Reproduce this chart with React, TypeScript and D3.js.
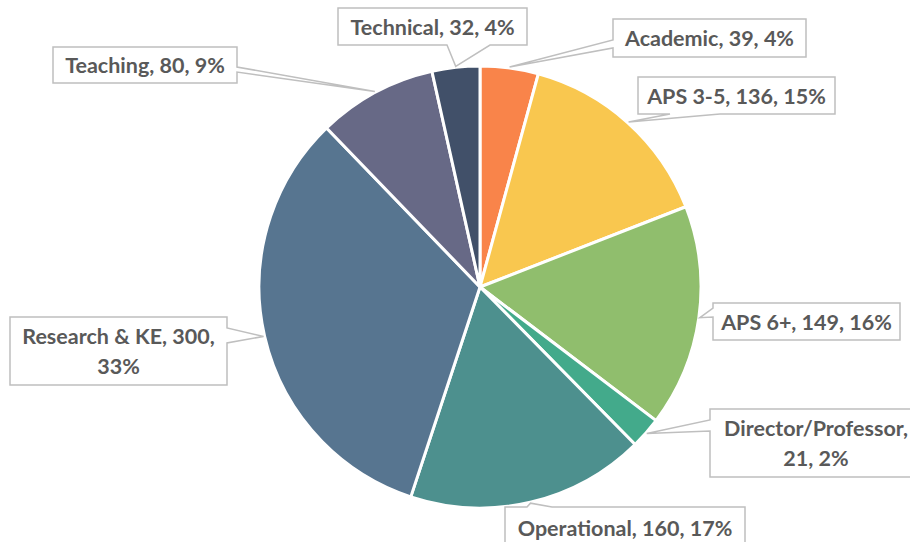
import React from "react";
import * as d3 from "d3";

const categories = ["Academic", "APS 3-5", "APS 6+", "Director/Professor", "Operational", "Research & KE", "Teaching", "Technical"];
const values = [39, 136, 149, 21, 160, 300, 80, 32];
const percents = [4, 15, 16, 2, 17, 33, 9, 4];
const colors = ["#F9844A", "#F9C74F", "#90BE6D", "#43AA8B", "#4D908E", "#577590", "#676986", "#415069"];

const W = 910, H = 542;
const CX = 480, CY = 287, R = 221;

type Side = "left" | "right" | "top" | "bottom";
interface Callout { box: [number, number, number, number]; side: Side; base: [number, number]; firstLineParts?: number; }

const callouts: Callout[] = [
  { box: [613, 19, 806, 57], side: "left", base: [40, 48] },
  { box: [638, 77, 835, 114], side: "bottom", base: [670, 720] },
  { box: [713, 303, 900, 340], side: "left", base: [308, 317] },
  { box: [710, 409, 922, 477], side: "left", base: [420, 431], firstLineParts: 1 },
  { box: [505, 507, 745, 548], side: "top", base: [527, 552] },
  { box: [10, 317, 227, 385], side: "right", base: [328, 343], firstLineParts: 2 },
  { box: [53, 47, 237, 83], side: "right", base: [67, 72] },
  { box: [338, 8, 527, 45], side: "bottom", base: [447, 490] },
];

function calloutPath(c: Callout, tip: [number, number]) {
  const [x0, y0, x1, y1] = c.box;
  const [b0, b1] = c.base;
  const [tx, ty] = tip;
  switch (c.side) {
    case "left":
      return `M${x0},${y0}H${x1}V${y1}H${x0}V${b1}L${tx},${ty}L${x0},${b0}Z`;
    case "right":
      return `M${x0},${y0}H${x1}V${b0}L${tx},${ty}L${x1},${b1}V${y1}H${x0}Z`;
    case "bottom":
      return `M${x0},${y0}H${x1}V${y1}H${b1}L${tx},${ty}L${b0},${y1}H${x0}Z`;
    case "top":
      return `M${x0},${y0}H${b0}L${tx},${ty}L${b1},${y0}H${x1}V${y1}H${x0}Z`;
  }
}

export default function App() {
  const pie = d3.pie<number>().sort(null).value((d) => d)(values);
  const arc = d3.arc<d3.PieArcDatum<number>>().innerRadius(0).outerRadius(R);
  const rim = d3.arc<d3.PieArcDatum<number>>().innerRadius(R + 1).outerRadius(R + 1);
  return (
    <svg width={W} height={H} style={{ position: "absolute", left: 0, top: 0, background: "#fff" }}>
      <g transform={`translate(${CX},${CY})`}>
        {pie.map((d, i) => (
          <path key={i} d={arc(d) || ""} fill={colors[i]} stroke="#fff" strokeWidth={3} strokeLinejoin="round" />
        ))}
      </g>
      {pie.map((d, i) => {
        const c = callouts[i];
        const [rx, ry] = rim.centroid(d);
        const tip: [number, number] = [CX + rx, CY + ry];
        const full = `${categories[i]}, ${values[i]}, ${percents[i]}%`;
        let lines = [full];
        if (c.firstLineParts) {
          const parts = full.split(", ");
          lines = [parts.slice(0, c.firstLineParts).join(", ") + ",", parts.slice(c.firstLineParts).join(", ")];
        }
        const [x0, y0, x1, y1] = c.box;
        const mx = (x0 + x1) / 2, my = (y0 + y1) / 2;
        const lh = 30;
        return (
          <g key={i}>
            <path d={calloutPath(c, tip)} fill="#fff" stroke="#BFBFBF" strokeWidth={1.5} />
            {lines.map((t, j) => (
              <text key={j} x={mx} y={my + (j - (lines.length - 1) / 2) * lh} textAnchor="middle" dominantBaseline="central"
                fontFamily="Lato, 'Open Sans', sans-serif" fontWeight={700} fontSize={21.5} fill="#595959">
                {t}
              </text>
            ))}
          </g>
        );
      })}
    </svg>
  );
}
